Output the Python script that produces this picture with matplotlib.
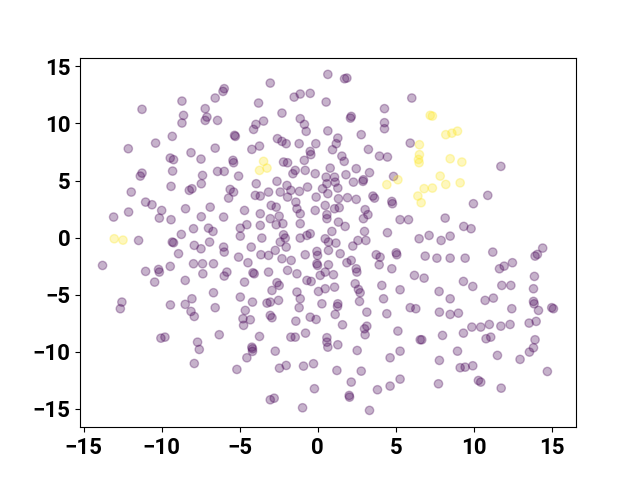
import numpy as np
import matplotlib.pyplot as plt

# t-SNE style embedding, label 0 = background points, label 1 = small cluster
other_xy = [
    (-8.70, 11.96), (-11.26, 11.24), (-7.21, 11.30), (-8.60, 10.71), (-8.70, 10.04), (-7.10, 10.56),
    (-7.21, 10.27), (-9.32, 8.87), (-12.14, 7.79), (-10.39, 8.28), (-8.12, 7.44), (-9.45, 6.97),
    (-9.24, 6.83), (-7.48, 6.88), (-9.30, 5.83), (-11.26, 5.65), (-11.37, 5.39), (-7.38, 5.45),
    (-11.95, 3.99), (-9.40, 4.49), (-8.23, 4.14), (-8.06, 4.28), (-7.46, 4.72), (-11.03, 3.11),
    (-10.62, 2.88), (-13.08, 1.80), (-12.12, 2.24), (-10.0, 2.38), (-10.15, 1.71), (-9.40, 1.57),
    (-8.47, 2.53), (-7.46, 1.83), (-11.48, -0.25), (-8.74, 0.28), (-7.96, 0.78), (-9.32, -0.39),
    (-9.24, -0.45), (-7.91, -0.68), (-7.48, -0.98), (-8.92, -1.41), (-13.79, -2.44), (-11.03, -2.96),
    (-10.20, -2.79), (-10.15, -3.02), (-9.45, -2.52), (-7.96, -2.29), (-7.38, -2.29), (-10.45, -3.90),
    (-8.49, -3.75), (-7.36, -3.17), (-8.06, -5.36), (-12.55, -5.65), (-9.44, -5.9), (-8.49, -5.85),
    (-12.65, -6.23), (-8.12, -6.47), (-7.91, -6.91), (-10.05, -8.81), (-9.79, -8.72), (-7.70, -9.16),
    (-7.59, -9.80), (-7.91, -11.03),
    (0.65, 14.30), (-3.04, 13.54), (-5.99, 13.05), (-6.07, 12.81), (-6.57, 12.23), (-1.51, 12.31),
    (-1.12, 12.58), (-0.48, 12.64), (0.54, 11.88), (-3.79, 11.79), (-6.42, 10.27), (-2.29, 10.91),
    (-1.12, 10.42), (-0.85, 9.92), (-0.74, 9.31), (-3.47, 10.21), (-3.96, 9.92), (-4.11, 9.48),
    (0.65, 9.35), (-5.33, 8.96), (-5.28, 8.87), (-2.58, 8.67), (-2.29, 8.43), (-2.02, 8.23),
    (-1.19, 8.23), (-0.12, 8.23), (-6.57, 7.84), (-4.22, 7.73), (-3.73, 8.02), (-0.48, 7.55),
    (-0.44, 7.27), (-5.43, 6.77), (-5.39, 6.56), (-0.86, 6.77), (-2.19, 6.62), (-1.93, 6.56),
    (-6.42, 5.80), (-5.99, 5.80), (-5.07, 5.39), (-1.44, 5.89), (-1.59, 5.60), (-0.80, 5.89),
    (-0.16, 5.60), (0.54, 5.30),
    (1.72, 13.92), (1.87, 13.98), (6.03, 12.23), (4.28, 11.30), (2.15, 10.62), (2.10, 10.47),
    (4.28, 10.07), (4.28, 9.54), (1.29, 8.72), (1.19, 8.23), (0.95, 7.70), (2.79, 9.02),
    (5.93, 8.28), (3.25, 7.73), (1.55, 7.14), (1.70, 6.68), (3.96, 7.14), (4.47, 7.06),
    (0.80, 6.09), (1.08, 5.30), (1.81, 5.51), (2.47, 6.04), (3.32, 5.69), (2.93, 5.07),
    (4.86, 5.36), (11.74, 6.24),
    (0.59, 4.72), (1.12, 4.86), (1.29, 4.34), (2.29, 4.86), (2.90, 4.93), (0.65, 3.85),
    (1.33, 3.41), (1.91, 3.50), (2.47, 3.35), (3.54, 3.64), (3.64, 3.46), (4.75, 3.17),
    (4.79, 2.97), (0.48, 2.82), (1.08, 2.53), (1.38, 2.62), (3.04, 2.45), (3.22, 2.01),
    (2.93, 1.66), (0.59, 2.01), (0.59, 1.66), (1.33, 1.36), (1.76, 0.98), (5.28, 1.57),
    (5.82, 1.57), (8.17, 1.71), (4.47, 0.43), (3.00, 0.54), (0.91, 0.54), (0.48, -0.10),
    (0.69, -0.39), (1.17, -0.48), (2.25, -0.74), (2.58, -0.25), (3.09, -0.25), (6.50, -0.10),
    (7.14, 0.19), (7.91, -0.25), (8.49, 0.13), (1.44, -1.41), (3.75, -1.50), (4.00, -1.71),
    (3.94, -2.38), (5.03, -1.33), (5.07, -1.50), (6.89, -1.62), (7.64, -1.80), (8.49, -1.80),
    (2.15, -2.00), (1.87, -2.20), (0.69, -2.38), (0.48, -3.02), (2.47, -2.73), (2.51, -3.02),
    (4.75, -2.73), (1.01, -3.25), (6.20, -3.31), (6.82, -3.55), (2.40, -4.04), (2.61, -4.54),
    (2.72, -4.83), (4.11, -4.19), (5.28, -4.57), (1.08, -4.34), (7.78, -4.72), (4.22, -5.36),
    (2.68, -5.59), (1.29, -5.80), (0.48, -4.48),
    (10.90, 3.70), (9.98, 2.97), (9.36, 0.98), (9.83, 0.78), (11.22, -1.27), (14.42, -0.92),
    (14.08, -1.47), (13.93, -1.62), (9.45, -1.80), (12.48, -2.20), (11.95, -2.50), (11.65, -2.73),
    (13.89, -3.40), (13.83, -4.48), (9.34, -3.84), (9.94, -4.28), (11.80, -4.19), (12.38, -4.19),
    (8.49, -5.36), (10.73, -5.50), (11.26, -5.30), (13.83, -5.59), (13.87, -5.80),
    (15.0, -6.14), (15.11, -6.23), (9.02, -6.62), (8.49, -6.73), (12.44, -6.23), (14.15, -6.38),
    (9.34, -8.37), (9.88, -7.84), (10.45, -7.84), (11.0, -7.61), (11.74, -7.76), (12.33, -7.61),
    (13.55, -7.49), (14.0, -7.34), (10.79, -8.86), (11.09, -8.72), (13.93, -8.95), (13.83, -9.65),
    (13.57, -10.03), (8.96, -9.95), (11.52, -10.32), (12.97, -10.67), (9.13, -11.40), (9.45, -11.35),
    (9.94, -11.23), (14.72, -11.73), (10.30, -12.52), (10.45, -12.66), (11.76, -13.19),
    (1.27, -6.03), (1.12, -6.73), (3.15, -6.53), (4.43, -6.67), (5.93, -6.14), (6.29, -6.23),
    (7.80, -6.53), (1.59, -7.64), (3.00, -7.99), (3.15, -7.76), (3.04, -8.51), (5.14, -8.19),
    (6.57, -8.95), (6.67, -8.95), (8.0, -8.57), (0.59, -8.77), (0.59, -9.16), (0.65, -9.60),
    (1.29, -9.39), (2.53, -9.89), (5.28, -9.95), (4.64, -10.53), (7.80, -10.76), (1.23, -11.64),
    (2.79, -11.70), (2.15, -12.66), (2.02, -13.83), (2.04, -13.98), (5.28, -12.40), (4.64, -13.01),
    (3.83, -13.33), (3.32, -15.14), (7.74, -12.81),
    (-6.57, -6.14), (-4.18, -5.65), (-3.25, -5.74), (-3.04, -5.65), (-2.51, -5.50), (-1.19, -6.14),
    (0.27, -5.80), (-4.64, -6.38), (-4.79, -7.11), (-4.32, -7.20), (-4.75, -7.69), (-3.04, -6.82),
    (-2.93, -7.02), (-1.40, -7.32), (-0.48, -6.97), (-0.10, -7.17), (-6.31, -8.51), (-3.73, -8.66),
    (-1.72, -8.72), (-1.44, -8.72), (-0.78, -8.37), (-4.22, -9.60), (-4.18, -9.74), (-4.18, -9.97),
    (-2.72, -9.95), (-4.54, -10.53), (-5.18, -11.55), (-2.45, -11.44), (-2.02, -11.20), (-0.91, -11.26),
    (-0.27, -11.05), (-0.21, -13.24), (-3.04, -14.21), (-2.79, -14.07), (-0.97, -14.91),
    (-3.94, 4.72), (-2.61, 4.93), (-1.97, 4.57), (-0.65, 4.43), (0.31, 4.28), (-5.61, 4.22),
    (-5.39, 3.99), (-5.71, 3.46), (-4.00, 3.70), (-3.68, 3.64), (-3.15, 3.99), (-2.40, 3.99),
    (-1.72, 4.14), (-1.93, 3.55), (-1.17, 4.05), (-0.10, 3.55), (-6.89, 2.67), (-4.69, 2.38),
    (-6.03, 1.80), (-3.68, 2.09), (-2.98, 2.82), (-2.66, 2.67), (-1.40, 3.11), (-1.33, 2.53),
    (-1.12, 2.09), (-0.16, 2.38), (-3.04, 1.66), (-2.47, 1.88), (-2.66, 1.13), (-2.23, 1.22),
    (-1.12, 1.22), (-4.54, 1.13), (-4.96, 0.83), (-4.96, 0.13), (-7.00, 0.83), (-6.71, 0.54),
    (-3.68, 1.07), (-3.58, -0.04), (-2.19, 0.25), (-2.08, -0.04), (-2.40, -0.39), (-2.02, -0.83),
    (-1.12, -0.04), (-0.69, 0.19), (-0.48, 0.34), (-6.93, -0.39), (-6.03, -0.83), (-5.99, -1.27),
    (-4.26, -0.83), (-2.72, -1.12), (-3.64, -1.50), (-3.15, -1.56), (-2.29, -1.85), (-1.70, -2.00),
    (-0.80, -1.50), (-0.05, -1.21), (-0.01, -1.56), (0.69, -1.12), (-5.07, -1.71), (-4.47, -2.20),
    (-0.05, -2.29), (-0.01, -2.44), (-6.68, -2.29), (-5.82, -3.02), (-5.99, -3.37), (-4.15, -3.08),
    (-4.07, -3.17), (-3.15, -3.02), (-1.93, -2.87), (-1.33, -3.17), (0.16, -3.31), (-4.69, -3.90),
    (-2.61, -3.95), (-2.47, -4.19), (-0.69, -3.75), (-0.42, -3.84), (-6.68, -4.83), (-4.96, -5.21),
    (-2.93, -4.63), (-1.33, -4.77), (0.05, -4.72), (-1.12, -5.36),
]

cluster_xy = [
    (-13.04, -0.10), (-12.48, -0.22), (-3.47, 6.68), (-3.73, 5.89), (-3.25, 6.09),
    (7.21, 10.71), (7.35, 10.65), (8.21, 9.02), (8.6, 9.15), (8.96, 9.33), (6.52, 8.14),
    (6.52, 7.27), (6.46, 6.85), (6.50, 6.56), (8.49, 6.91), (9.24, 6.62), (7.85, 5.39),
    (5.14, 5.07), (4.43, 4.64), (8.21, 4.66), (6.82, 4.29), (7.35, 4.34), (6.42, 3.64),
    (6.63, 3.06), (9.13, 4.8),
]

pts = np.array(other_xy + cluster_xy)
labels = np.array([0] * len(other_xy) + [1] * len(cluster_xy))

plt.rcParams['font.family'] = ['Roboto', 'DejaVu Sans']

fig, ax = plt.subplots(figsize=(6.4, 4.8), dpi=100)
ax.scatter(pts[:, 0], pts[:, 1], c=labels, cmap='viridis', alpha=0.3)
ax.set_xticks([-15, -10, -5, 0, 5, 10, 15])
ax.set_yticks([-15, -10, -5, 0, 5, 10, 15])
for lbl in ax.get_xticklabels() + ax.get_yticklabels():
    lbl.set_fontsize(16)
    lbl.set_fontweight('bold')

plt.savefig('out.png')
